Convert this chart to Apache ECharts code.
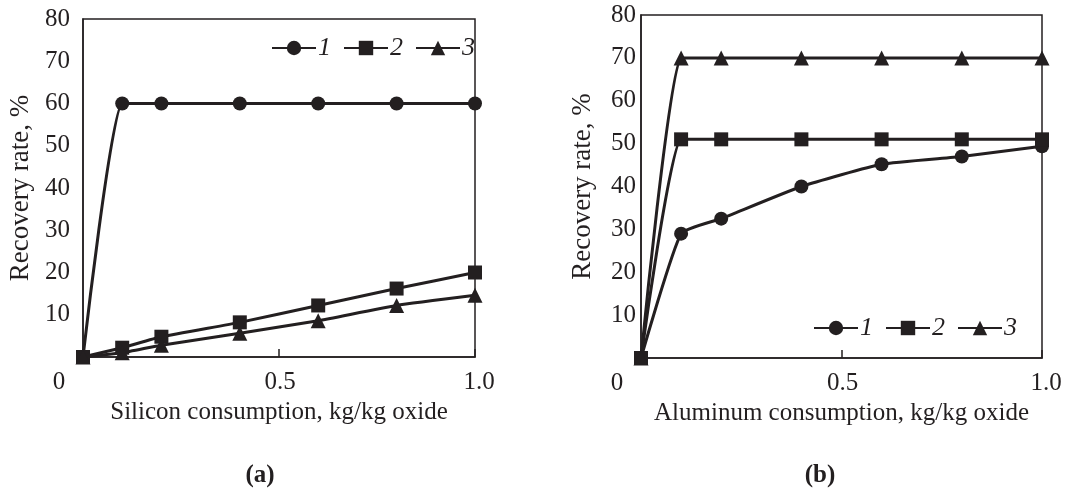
<!DOCTYPE html>
<html>
<head>
<meta charset="utf-8">
<script src="https://cdn.jsdelivr.net/npm/echarts@6/dist/echarts.min.js"></script>
<style>html,body{margin:0;padding:0;background:#fff;}#c{width:1084px;height:488px;}</style>
</head>
<body>
<div id="c"></div>
<script>
// ---- data ----
var xValues = [0, 0.1, 0.2, 0.4, 0.6, 0.8, 1.0];
var seriesNames = ['1', '2', '3'];
// (a) Silicon consumption
var a1 = [0, 60, 60, 60, 60, 60, 60];
var a2 = [0, 2.2, 4.8, 8.2, 12.2, 16.2, 20];
var a3 = [0, 1.0, 2.8, 5.6, 8.6, 12.2, 14.6];
// (b) Aluminum consumption
var b1 = [0, 29, 32.5, 40, 45.2, 47, 49.4];
var b2 = [0, 51, 51, 51, 51, 51, 51];
var b3 = [0, 70, 70, 70, 70, 70, 70];
var xTickLabels = {0: '0', 0.5: '0.5', 1: '1.0'};
var yMin = 0, yMax = 80, yStep = 10;
var xTitleA = 'Silicon consumption, kg/kg oxide';
var xTitleB = 'Aluminum consumption, kg/kg oxide';
var yTitle = 'Recovery rate, %';
var panelLabels = ['(a)', '(b)'];

// ---- chart ----
var ink = '#231f20';
var font = '"Liberation Serif", "DejaVu Serif", serif';
var tickSize = 25, titleSize = 25;
function pairs(ys) { return xValues.map(function (x, i) { return [x, ys[i]]; }); }
var symbols = ['circle', 'rect', 'triangle'];
function mkSeries(arr, idx) {
  return arr.map(function (ys, i) {
    return {
      name: seriesNames[i], type: 'line', xAxisIndex: idx, yAxisIndex: idx,
      data: pairs(ys), smooth: 0.15, symbol: symbols[i], symbolSize: i === 2 ? 15 : 14,
      lineStyle: {color: ink, width: 3}, itemStyle: {color: ink},
      clip: false, z: 3
    };
  });
}
function xAxis(idx) {
  return {
    type: 'value', gridIndex: idx, min: 0, max: 1, interval: 0.5,
    axisLine: {show: true, lineStyle: {color: ink, width: 1.5}},
    axisTick: {show: true, inside: true, length: 8, lineStyle: {color: ink, width: 1.5}},
    splitLine: {show: false},
    axisLabel: {
      margin: 13, color: ink, fontFamily: font, fontSize: tickSize,
      formatter: function (v) {
        var t = xTickLabels[v];
        if (v === 0) return '{z|' + t + '}';
        if (v === 1) return '{o|' + t + '}';
        return '{m|' + t + '}';
      },
      rich: {
        z: {padding: [0, 48, 0, 0], color: ink, fontFamily: font, fontSize: tickSize},
        m: {padding: [0, 0, 0, 2], color: ink, fontFamily: font, fontSize: tickSize},
        o: {padding: [0, 0, 0, 8], color: ink, fontFamily: font, fontSize: tickSize}
      }
    },
    name: idx === 0 ? xTitleA : xTitleB, nameLocation: 'middle', nameGap: 40,
    nameTextStyle: {color: ink, fontFamily: font, fontSize: titleSize}
  };
}
function yAxis(idx, margin, gap) {
  return {
    type: 'value', gridIndex: idx, min: yMin, max: yMax, interval: yStep,
    axisLine: {show: true, lineStyle: {color: ink, width: 1.5}},
    axisTick: {show: false}, splitLine: {show: false},
    axisLabel: {
      margin: margin, color: ink, fontFamily: font, fontSize: tickSize,
      formatter: function (v) { return v === 0 ? '' : String(v); }
    },
    name: yTitle, nameLocation: 'middle', nameGap: gap, nameRotate: 90,
    nameTextStyle: {color: ink, fontFamily: font, fontSize: 27}
  };
}
function legend(left, top) {
  return {
    show: true, left: left, top: top, orient: 'horizontal',
    data: seriesNames, itemWidth: 44, itemHeight: 18, itemGap: 12,
    selectedMode: false,
    textStyle: {color: ink, fontFamily: font, fontSize: 26, fontStyle: 'italic', padding: [0, 0, 0, -3]}
  };
}
var chart = echarts.init(document.getElementById('c'), null, {renderer: 'canvas'});
var seriesA = mkSeries([a1, a2, a3], 0);
var seriesB = mkSeries([b1, b2, b3], 1);
chart.setOption({
  animation: false,
  backgroundColor: '#fff',
  grid: [
    {left: 83, right: 609, top: 19, bottom: 131, containLabel: false, outerBoundsMode: 'none', show: true, borderColor: ink, borderWidth: 1.5, backgroundColor: 'transparent'},
    {left: 641, right: 42, top: 15, bottom: 130, containLabel: false, outerBoundsMode: 'none', show: true, borderColor: ink, borderWidth: 1.5, backgroundColor: 'transparent'}
  ],
  xAxis: [xAxis(0), xAxis(1)],
  yAxis: [yAxis(0, 13, 49), yAxis(1, 5, 45)],
  legend: [legend(266, 30), legend(808, 310)],
  title: [
    {text: panelLabels[0], left: 255, top: 458, textAlign: 'center', textStyle: {color: ink, fontFamily: font, fontSize: 25, fontWeight: 'bold'}},
    {text: panelLabels[1], left: 815, top: 458, textAlign: 'center', textStyle: {color: ink, fontFamily: font, fontSize: 25, fontWeight: 'bold'}}
  ],
  series: seriesA.concat(seriesB)
});
</script>
</body>
</html>
